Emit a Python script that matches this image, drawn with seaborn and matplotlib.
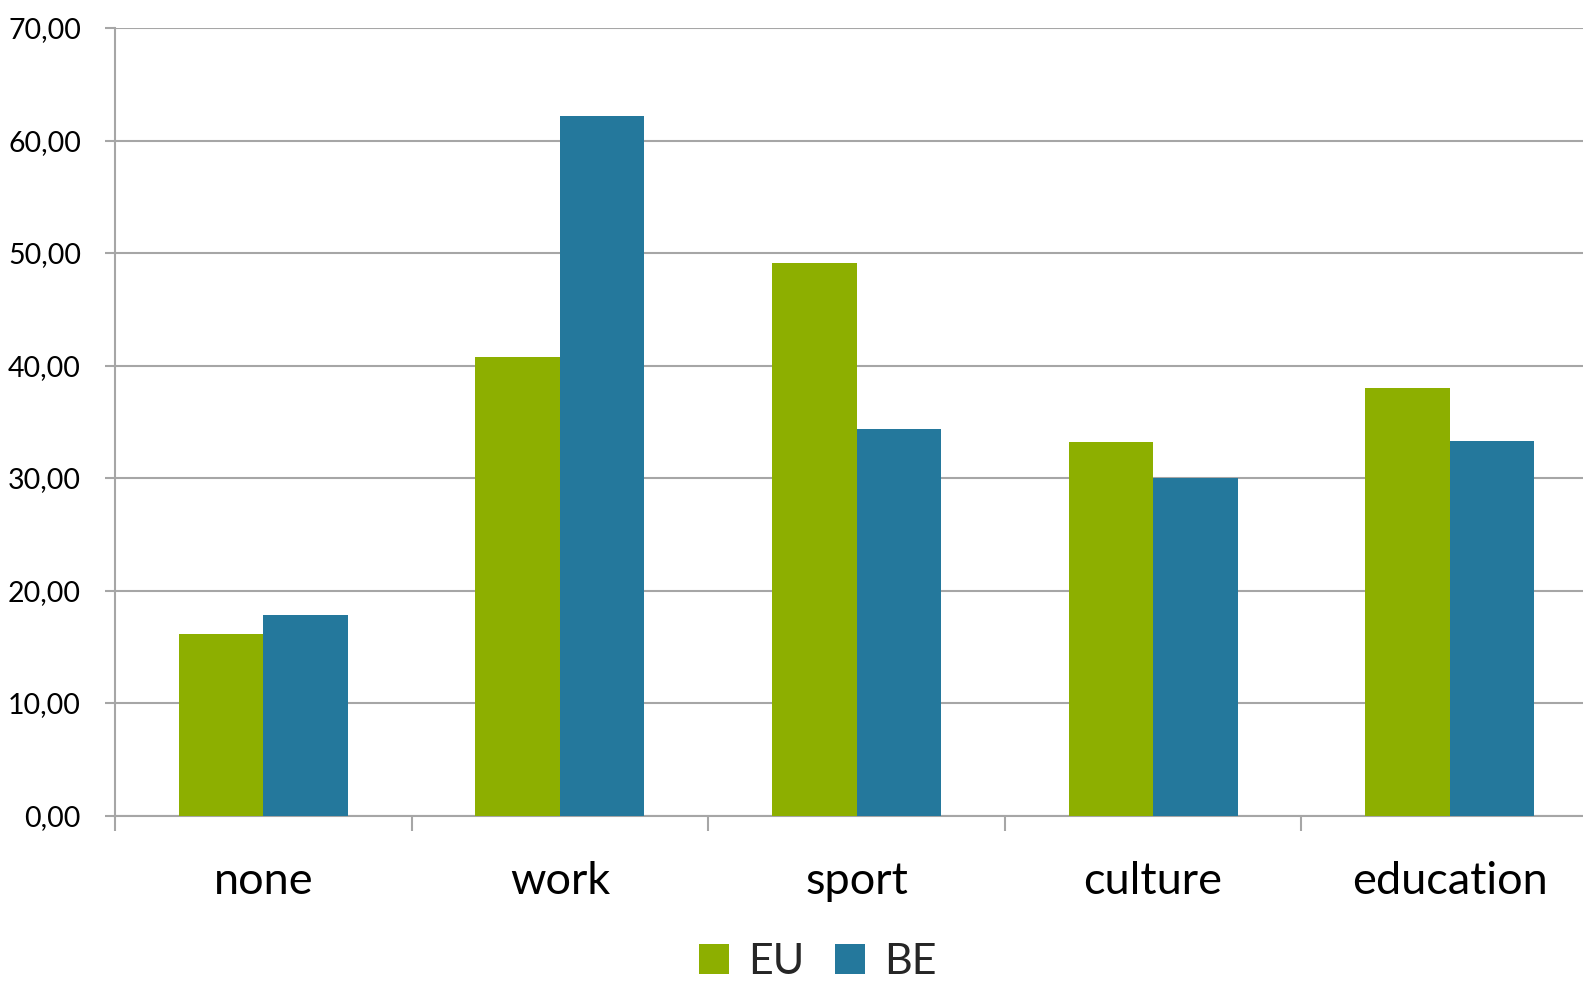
import matplotlib
matplotlib.use("Agg")
import matplotlib.pyplot as plt
import seaborn as sns
import pandas as pd
from matplotlib.ticker import FuncFormatter, FixedLocator
from matplotlib.patches import Patch

categories = ["none", "work", "sport", "culture", "education"]
series_names = ["EU", "BE"]
eu_values = [16.1, 40.8, 49.1, 33.2, 38.0]
be_values = [17.8, 62.2, 34.4, 30.0, 33.3]
y_ticks = [0, 10, 20, 30, 40, 50, 60, 70]
colors = {"EU": "#8DAF00", "BE": "#24789C"}

df = pd.DataFrame({
    "category": categories * 2,
    "series": ["EU"] * len(categories) + ["BE"] * len(categories),
    "value": eu_values + be_values,
})

sns.set_theme(style="white")
plt.rcParams["font.family"] = ["Lato", "DejaVu Sans"]

fig = plt.figure(figsize=(15.83, 9.81), dpi=100)
ax = fig.add_axes([115 / 1583, 1 - 815.5 / 981, 1483 / 1583, (815.5 - 28) / 981])

sns.barplot(data=df, x="category", y="value", hue="series", order=categories,
            hue_order=series_names, palette=colors, width=0.57, saturation=1,
            linewidth=0, legend=False, ax=ax, zorder=3)

grid_color = "#A6A6A6"
ax.set_xlim(-0.5, len(categories) - 0.5)
ax.set_ylim(0, 70)
ax.set_yticks(y_ticks)
ax.yaxis.set_major_formatter(FuncFormatter(lambda v, p: f"{v:.2f}".replace(".", ",")))
ax.yaxis.grid(True, color=grid_color, linewidth=1.5, zorder=0)
ax.set_axisbelow(True)
ax.set_xlabel("")
ax.set_ylabel("")

for s in ["top", "right"]:
    ax.spines[s].set_visible(False)
for s in ["left", "bottom"]:
    ax.spines[s].set_color(grid_color)
    ax.spines[s].set_linewidth(1.5)

ax.tick_params(axis="y", which="major", length=7.5, width=1.5, color=grid_color,
               pad=17, labelsize=20.5, labelcolor="black", left=True)
ax.tick_params(axis="x", which="major", length=0, pad=33, labelsize=32.5, labelcolor="black")
ax.xaxis.set_minor_locator(FixedLocator([i - 0.5 for i in range(len(categories) + 1)]))
ax.tick_params(axis="x", which="minor", length=11, width=1.5, color=grid_color, bottom=True)

handles = [Patch(facecolor=colors[n], edgecolor="none", label=n) for n in series_names]
fig.legend(handles=handles, loc="lower center", bbox_to_anchor=(818 / 1583, 0.0),
           ncol=2, frameon=False, fontsize=31, handlelength=0.7, handleheight=0.7,
           handletextpad=0.45, columnspacing=0.7, borderpad=0.0, borderaxespad=0.0)

fig.savefig("out.png", dpi=100)
